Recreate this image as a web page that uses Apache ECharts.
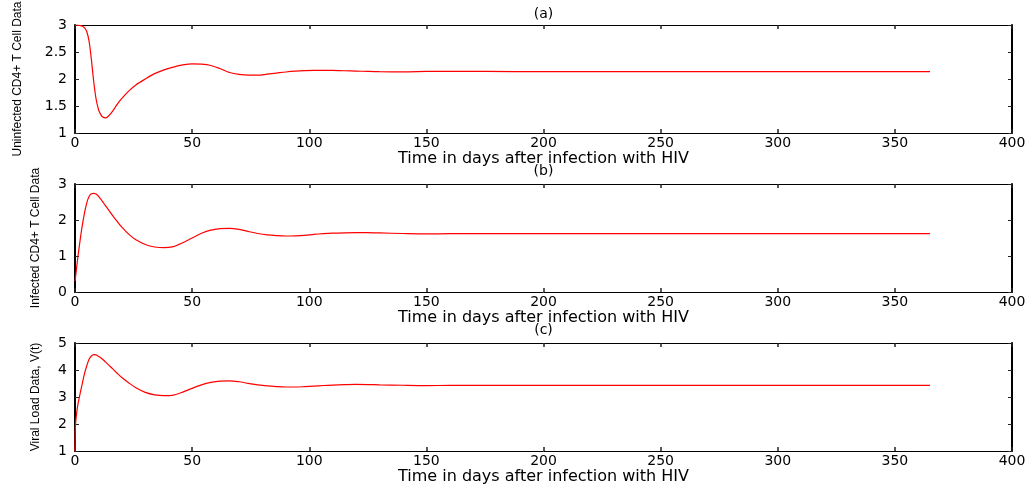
<!DOCTYPE html>
<html>
<head>
<meta charset="utf-8">
<script src="https://cdn.jsdelivr.net/npm/echarts@6/dist/echarts.min.js"></script>
<style>
html,body{margin:0;padding:0;background:#fff;}
#main{width:1032px;height:487px;}
</style>
</head>
<body>
<div id="main"></div>
<script>
// ---- data ----
var days = [0, 0.2, 1, 2, 3, 4, 5, 6, 7, 8, 9, 10, 11, 12, 13, 14, 16, 18, 20, 23, 26, 30, 34, 38, 42, 46, 50, 54, 58, 62, 66, 70, 74, 78, 82, 86, 90, 94, 98, 102, 106, 110, 115, 120, 125, 130, 140, 150, 160, 175, 200, 250, 300, 365];
var uninfected = [3.00, 3.00, 3.00, 2.99, 2.98, 2.95, 2.88, 2.70, 2.36, 1.95, 1.63, 1.44, 1.34, 1.29, 1.28, 1.30, 1.40, 1.53, 1.64, 1.78, 1.89, 2.00, 2.10, 2.17, 2.22, 2.26, 2.28, 2.275, 2.25, 2.19, 2.12, 2.085, 2.07, 2.07, 2.09, 2.11, 2.13, 2.145, 2.155, 2.16, 2.16, 2.158, 2.153, 2.147, 2.14, 2.135, 2.133, 2.14, 2.143, 2.14, 2.136, 2.135, 2.135, 2.135];
var infected = [0.30, 0.40, 0.85, 1.35, 1.80, 2.18, 2.47, 2.65, 2.73, 2.74, 2.72, 2.66, 2.58, 2.49, 2.40, 2.31, 2.13, 1.96, 1.80, 1.60, 1.45, 1.32, 1.25, 1.23, 1.26, 1.37, 1.50, 1.63, 1.72, 1.76, 1.77, 1.74, 1.68, 1.625, 1.585, 1.565, 1.555, 1.56, 1.575, 1.60, 1.62, 1.635, 1.645, 1.65, 1.648, 1.64, 1.625, 1.615, 1.62, 1.622, 1.62, 1.62, 1.62, 1.62];
var viral = [1.00, 1.95, 2.60, 3.05, 3.45, 3.85, 4.15, 4.40, 4.52, 4.57, 4.56, 4.51, 4.45, 4.38, 4.30, 4.22, 4.05, 3.88, 3.72, 3.52, 3.34, 3.17, 3.08, 3.05, 3.07, 3.18, 3.32, 3.45, 3.54, 3.59, 3.60, 3.565, 3.505, 3.45, 3.41, 3.385, 3.37, 3.37, 3.385, 3.405, 3.425, 3.44, 3.455, 3.465, 3.46, 3.45, 3.435, 3.425, 3.428, 3.43, 3.43, 3.43, 3.43, 3.43];

var panelTitles = ['(a)', '(b)', '(c)'];
var yNames = ['Uninfected CD4+ T Cell Data', 'Infected CD4+ T Cell Data', 'Viral Load Data, V(t)'];
var xName = 'Time in days after infection with HIV';
var xTicks = {min: 0, max: 400, interval: 50};
var yTicks = [
  {min: 1, max: 3, interval: 0.5},
  {min: 0, max: 3, interval: 1},
  {min: 1, max: 5, interval: 1}
];
var seriesValues = [uninfected, infected, viral];

// ---- layout ----
var gridTops = [25, 184, 343];
var gridHeight = 108;
var plotLeft = 75, plotWidth = 937;
var yNameGaps = [51, 33, 33];
var titleTops = [7, 164, 323];

var tickFont = 'DejaVu Sans, Liberation Sans, sans-serif';
var grids = [], xAxes = [], yAxes = [], series = [], titles = [];

function pairs(xs, ys) {
  var out = [];
  for (var i = 0; i < xs.length; i++) out.push([xs[i], ys[i]]);
  return out;
}

for (var p = 0; p < 3; p++) {
  grids.push({left: plotLeft, width: plotWidth, top: gridTops[p], height: gridHeight, containLabel: false, outerBoundsMode: 'none'});
  titles.push({
    text: panelTitles[p], left: plotLeft + plotWidth / 2, top: titleTops[p], textAlign: 'center', padding: 0,
    textStyle: {fontFamily: tickFont, fontSize: 14, fontWeight: 'normal', color: '#000'}
  });
}
// bottom x axes
for (var p = 0; p < 3; p++) {
  xAxes.push({
    type: 'value', gridIndex: p, position: 'bottom', min: xTicks.min, max: xTicks.max, interval: xTicks.interval,
    name: xName, nameLocation: 'middle', nameGap: 15,
    nameTextStyle: {fontFamily: tickFont, fontSize: 16, color: '#000'},
    axisLine: {show: true, onZero: false, lineStyle: {color: '#000', width: 1}},
    axisTick: {show: true, inside: true, length: 4, lineStyle: {color: '#222', width: 1.5}},
    axisLabel: {show: true, margin: 3, fontFamily: tickFont, fontSize: 14, color: '#000'},
    splitLine: {show: false}
  });
}
// top x axes (box)
for (var p = 0; p < 3; p++) {
  xAxes.push({
    type: 'value', gridIndex: p, position: 'top', min: xTicks.min, max: xTicks.max, interval: xTicks.interval,
    axisLine: {show: true, onZero: false, lineStyle: {color: '#000', width: 1}},
    axisTick: {show: true, inside: true, length: 4, lineStyle: {color: '#222', width: 1.5}},
    axisLabel: {show: false}, splitLine: {show: false}
  });
}
// left y axes
for (var p = 0; p < 3; p++) {
  yAxes.push({
    type: 'value', gridIndex: p, position: 'left', min: yTicks[p].min, max: yTicks[p].max, interval: yTicks[p].interval,
    name: yNames[p], nameLocation: 'middle', nameGap: yNameGaps[p], nameRotate: 90,
    nameTextStyle: {fontFamily: 'Liberation Sans, Arial, sans-serif', fontSize: 12, color: '#000'},
    axisLine: {show: true, onZero: false, lineStyle: {color: '#000', width: 2}},
    axisTick: {show: true, inside: true, length: 4, lineStyle: {color: '#222', width: 1}},
    axisLabel: {show: true, margin: 8, fontFamily: tickFont, fontSize: 14, color: '#000'},
    splitLine: {show: false}
  });
}
// right y axes (box)
for (var p = 0; p < 3; p++) {
  yAxes.push({
    type: 'value', gridIndex: p, position: 'right', min: yTicks[p].min, max: yTicks[p].max, interval: yTicks[p].interval,
    axisLine: {show: true, onZero: false, lineStyle: {color: '#000', width: 2}},
    axisTick: {show: true, inside: true, length: 4, lineStyle: {color: '#222', width: 1}},
    axisLabel: {show: false}, splitLine: {show: false}
  });
}
for (var p = 0; p < 3; p++) {
  series.push({
    type: 'line', xAxisIndex: p, yAxisIndex: p, data: pairs(days, seriesValues[p]),
    showSymbol: false, smooth: 0.3,
    lineStyle: {color: '#ff0000', width: 1.2}, itemStyle: {color: '#ff0000'},
    animation: false, silent: true
  });
}

var chart = echarts.init(document.getElementById('main'));
chart.setOption({
  animation: false,
  backgroundColor: '#ffffff',
  title: titles,
  grid: grids,
  xAxis: xAxes,
  yAxis: yAxes,
  series: series
});
</script>
</body>
</html>
